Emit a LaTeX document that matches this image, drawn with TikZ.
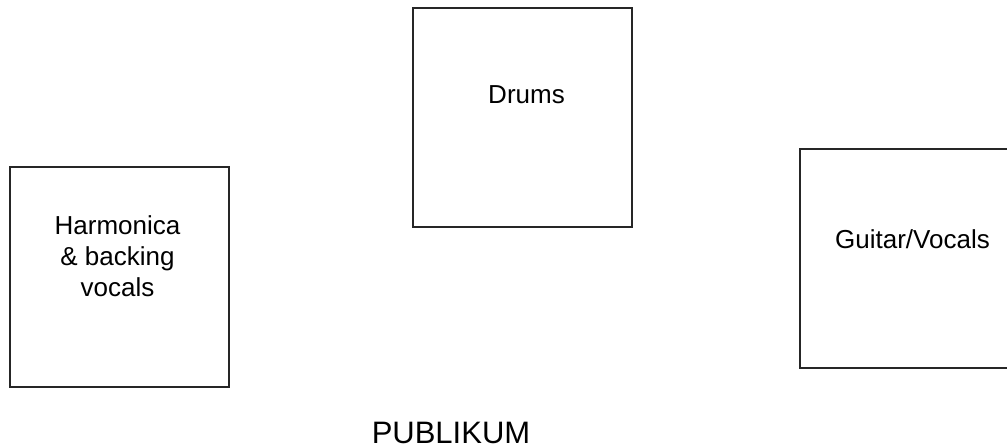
\documentclass[tikz,border=0pt]{standalone}
\usepackage{fontspec}
\setmainfont{Liberation Sans}
\begin{document}
\begin{tikzpicture}[x=1pt,y=-1pt,
  stagebox/.style={draw=black!85,line width=1.2pt,minimum width=219pt,minimum height=219pt,inner sep=0pt},
  lbl/.style={inner sep=0pt,font=\fontsize{26}{31}\selectfont,align=center,text=black},
  biglbl/.style={inner sep=0pt,font=\fontsize{31}{37}\selectfont,text=black}]
\useasboundingbox (0,0) rectangle (1007,447);
\clip (0,0) rectangle (1007,447);
\node[stagebox] (drums) at (522.5,117.5) {};
\node[lbl,anchor=base] (drumsT) at (526.5,103) {Drums};
\node[stagebox,minimum height=220pt] (harm) at (119.5,277) {};
\node[lbl,anchor=north] (harmT) at (117.5,215) {Harmonica\\ \& backing\\ vocals};
\node[stagebox] (guitar) at (909.5,258.5) {};
\node[lbl,anchor=base] (guitarT) at (912.5,248) {Guitar/Vocals};
\node[biglbl,anchor=base] (pub) at (451,443) {PUBLIKUM};
\end{tikzpicture}
\end{document}
